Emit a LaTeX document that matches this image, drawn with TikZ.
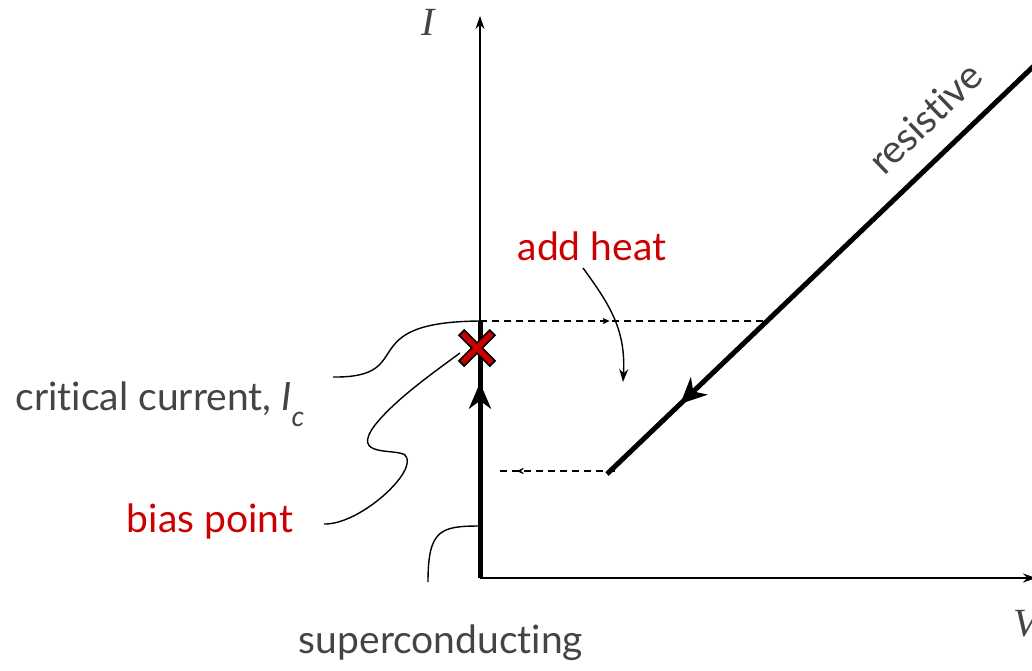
\documentclass[tikz,border=0pt]{standalone}
\usepackage{fontspec}
\setmainfont{Lato}[Ligatures=NoCommon]
\newfontfamily\axisfont{Liberation Serif}
\usetikzlibrary{arrows.meta, calc, decorations.markings}
\definecolor{ivInk}{HTML}{444444}
\definecolor{ivRed}{HTML}{CC0000}

\begin{document}
\begin{tikzpicture}[
    x=1pt, y=-1pt,
    >=Stealth,
    axis/.style={line width=1.3pt, -{Stealth[length=13pt,width=9pt]}},
    branch/.style={line width=5pt},
    jump/.style={line width=1.2pt, dash pattern=on 7pt off 5pt},
    leader/.style={line width=1.4pt},
    word/.style={font=\fontsize{39}{44}\selectfont, text=ivInk},
    hotword/.style={word, text=ivRed},
    varname/.style={font=\axisfont\itshape\fontsize{40}{44}\selectfont, text=ivInk},
    midarrow/.style 2 args={postaction={decorate},
      decoration={markings, mark=at position #1 with {\arrow{#2}}}},
]
\useasboundingbox[fill=white] (0,0) rectangle (1032,670);

% ---- Axes ----
\coordinate (O)    at (480,578);
\coordinate (Itop) at (480,16);
\coordinate (Vend) at (1036,578);
\draw[axis] (O) -- (Itop);
\draw[axis] (O) -- (Vend);
\node[varname] (Ilabel) at (428,22) {I};
\node[varname] (Vlabel) at (1026,624) {V};

% ---- Branches ----
\coordinate (Ic)   at (480,321);
\coordinate (Rtop) at (1038,62);
\coordinate (Rbot) at (607,474);
\coordinate (Rc)   at (768,321);
\coordinate (Back) at (498,471);

\draw[branch, midarrow={0.76}{Stealth[length=26pt,width=22pt,inset=8pt]}] (O) -- (Ic);
\draw[branch, midarrow={0.83}{Stealth[length=26pt,width=24pt,inset=8pt]}] (Rtop) -- (Rbot);

% switching (dashed)
\draw[jump, midarrow={0.45}{Stealth[length=11pt,width=10pt,inset=7pt]}] (Ic) -- (Rc);
\draw[jump, midarrow={0.84}{Stealth[length=11pt,width=10pt,inset=7pt]}] ($(Rbot)+(8,-3)$) -- (Back);

% ---- Bias marker ----
\coordinate (bias) at (477,348);
\draw[line width=9pt] ($(bias)+(-16,-16)$) -- ($(bias)+(16,16)$)
                      ($(bias)+(-16,16)$) -- ($(bias)+(16,-16)$);
\draw[line width=5.5pt, ivRed] ($(bias)+(-14.5,-14.5)$) -- ($(bias)+(14.5,14.5)$)
                               ($(bias)+(-14.5,14.5)$) -- ($(bias)+(14.5,-14.5)$);

% ---- Labels ----
\node[hotword] (heat) at (592,246) {add heat};
\node[word, rotate=44] (resist) at (925,118) {resistive};
\node[word] (crit) at (160,404) {critical current, \textit{I}\raisebox{-0.4em}{\fontsize{28}{30}\selectfont\textit{c}}};
\node[hotword] (biasLabel) at (210,521) {bias point};
\node[word] (superc) at (441,643) {superconducting};

% leaders
\coordinate (critTail)  at (333,377);
\coordinate (biasTail)  at (324,524);
\coordinate (biasTip)   at (460,353);
\coordinate (scTail)    at (428,582);
\coordinate (scTip)     at (480,526);
\coordinate (heatTail)  at (583,268);
\coordinate (heatTip)   at (623,382);

\draw[leader] (critTail) .. controls (420,378) and (350,322) .. (Ic);
\draw[leader] (biasTail) .. controls (360,525) and (420,470) .. (405,455)
                         .. controls (395,448) and (350,458) .. (375,425)
                         .. controls (395,400) and (430,375) .. (biasTip);
\draw[leader] (scTail) .. controls (428,530) and (440,526) .. (scTip);
\draw[leader, -{Stealth[length=13pt,width=9pt]}] (heatTail) .. controls (610,305) and (626,330) .. (heatTip);

\end{tikzpicture}
\end{document}
